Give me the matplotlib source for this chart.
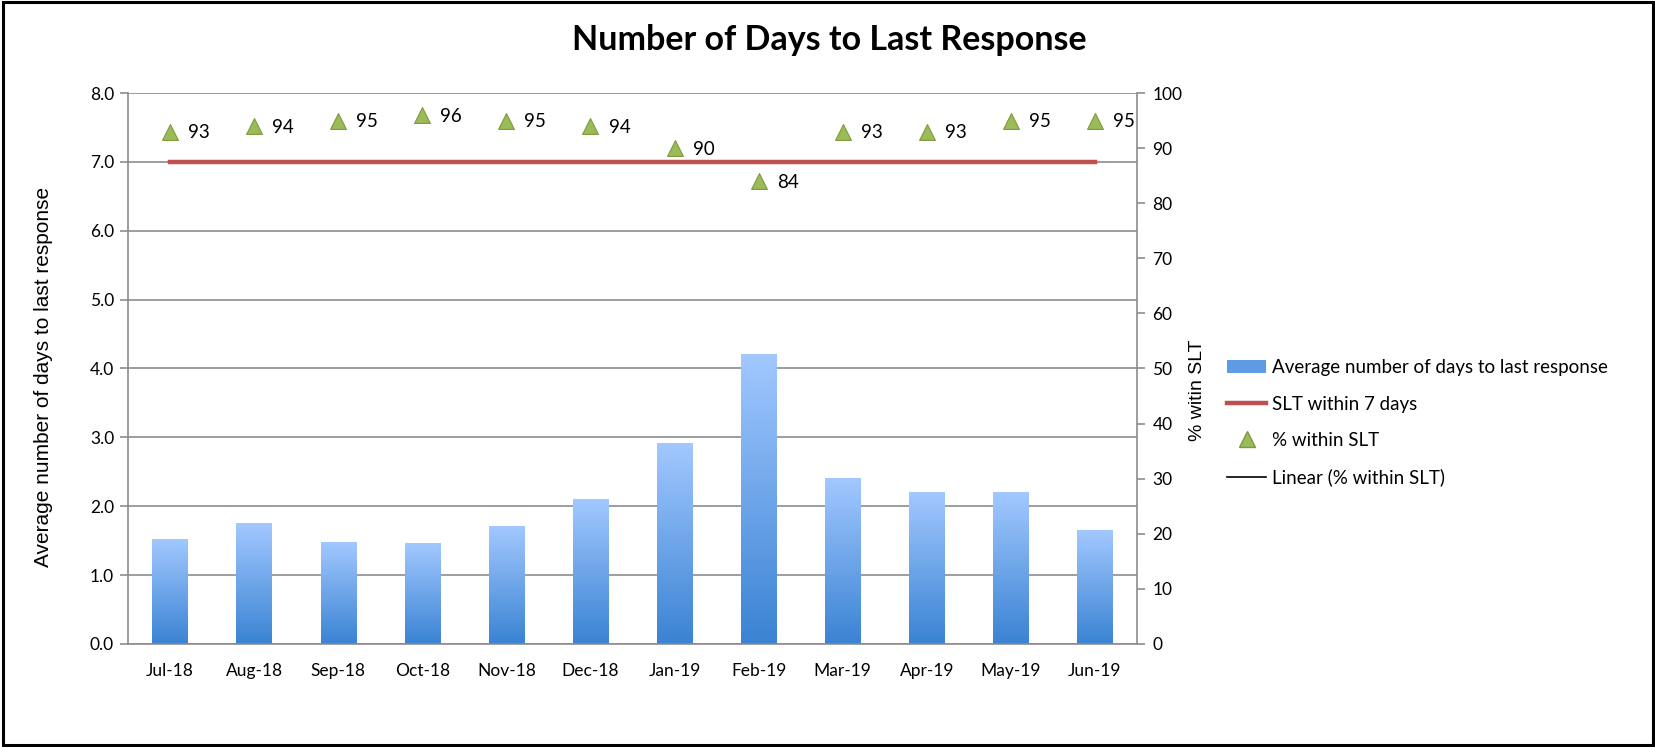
import numpy as np
import matplotlib
matplotlib.use("Agg")
import matplotlib.pyplot as plt
from matplotlib.colors import LinearSegmentedColormap
from matplotlib.lines import Line2D
from matplotlib.patches import Patch, Rectangle

# ---- data ----
months = ["Jul-18", "Aug-18", "Sep-18", "Oct-18", "Nov-18", "Dec-18",
          "Jan-19", "Feb-19", "Mar-19", "Apr-19", "May-19", "Jun-19"]
avg_days = [1.52, 1.75, 1.48, 1.46, 1.70, 2.10, 2.91, 4.20, 2.40, 2.20, 2.20, 1.65]
pct_within = [93, 94, 95, 96, 95, 94, 90, 84, 93, 93, 95, 95]
slt_days = 7.0

plt.rcParams["font.family"] = ["Lato", "DejaVu Sans"]

GRID = "#8c8c8c"
bar_cmap = LinearSegmentedColormap.from_list("bar", ["#3A83D3", "#A2C8FF"])

fig = plt.figure(figsize=(16.56, 7.47), dpi=100)
ax = fig.add_axes([0.0773, 0.1379, 0.6093, 0.7376])
ax2 = ax.twinx()

x = np.arange(len(months))
width = 0.42

# bars with vertical gradient (light top, dark bottom)
grad = np.linspace(0, 1, 256).reshape(-1, 1)
bars = ax.bar(x, avg_days, width=width, color="none", zorder=2)
for b in bars:
    x0, w, h = b.get_x(), b.get_width(), b.get_height()
    ax.imshow(grad, cmap=bar_cmap, origin="lower", aspect="auto",
              extent=[x0, x0 + w, 0, h], zorder=2)

ax.plot([x[0], x[-1]], [slt_days, slt_days], color="#C0504D", lw=3.2, zorder=3)

ax.set_xlim(-0.5, 11.5)
ax.set_ylim(0, 8)
ax.set_yticks(np.arange(0, 8.01, 1.0))
ax.set_yticklabels([f"{v:.1f}" for v in np.arange(0, 8.01, 1.0)], fontsize=12.5)
ax.set_xticks(x)
ax.set_xticklabels(months, fontsize=12.5)
ax.tick_params(axis="x", length=0, pad=14)
ax.tick_params(axis="y", length=6, color=GRID, width=1.2, pad=4)
ax.grid(axis="y", color=GRID, lw=1.2, zorder=0)
ax.set_axisbelow(True)
for s in ["top", "right"]:
    ax.spines[s].set_visible(False)
for s in ["left", "bottom"]:
    ax.spines[s].set_color(GRID)
    ax.spines[s].set_linewidth(1.2)

ax2.scatter(x, pct_within, marker="^", s=130, color="#9BBB59",
            edgecolor="#7D9B3C", linewidth=0.8, zorder=5)
for xi, p in zip(x, pct_within):
    ax2.annotate(f"{p}", (xi, p), xytext=(13, -1), textcoords="offset points",
                 fontsize=13.5, va="center", ha="left")
ax2.set_ylim(0, 100)
ax2.set_yticks(np.arange(0, 101, 10))
ax2.tick_params(axis="y", length=6, color=GRID, width=1.2, labelsize=12.5, pad=5)
for s in ["top", "left", "bottom"]:
    ax2.spines[s].set_visible(False)
ax2.spines["right"].set_color(GRID)
ax2.spines["right"].set_linewidth(1.2)

fig.text(0.5007, 0.946, "Number of Days to Last Response", ha="center", va="center",
         fontsize=24.5, fontweight="bold")
fig.text(0.026, 0.495, "Average number of days to last response", rotation=90,
         ha="center", va="center", fontsize=15, family=["Liberation Sans"])
fig.text(0.723, 0.478, "% witin SLT", rotation=90, ha="center", va="center",
         fontsize=14, family=["Liberation Sans"])

handles = [
    Patch(facecolor="#5E9BE6", edgecolor="none"),
    Line2D([], [], color="#C0504D", lw=3.2),
    Line2D([], [], color="none", marker="^", markersize=11,
           markerfacecolor="#9BBB59", markeredgecolor="#7D9B3C"),
    Line2D([], [], color="black", lw=1.2),
]
labels = ["Average number of days to last response", "SLT within 7 days",
          "% within SLT", "Linear (% within SLT)"]
fig.legend(handles, labels, loc="center left", bbox_to_anchor=(0.731, 0.434),
           frameon=False, fontsize=13.5, handlelength=2.08, handletextpad=0.3,
           labelspacing=1.03)

# outer frame
fig.patches.append(Rectangle((0.002, 0.003), 0.996, 0.994, transform=fig.transFigure,
                             fill=False, edgecolor="black", lw=2.2))

fig.savefig("out.png", dpi=100)
